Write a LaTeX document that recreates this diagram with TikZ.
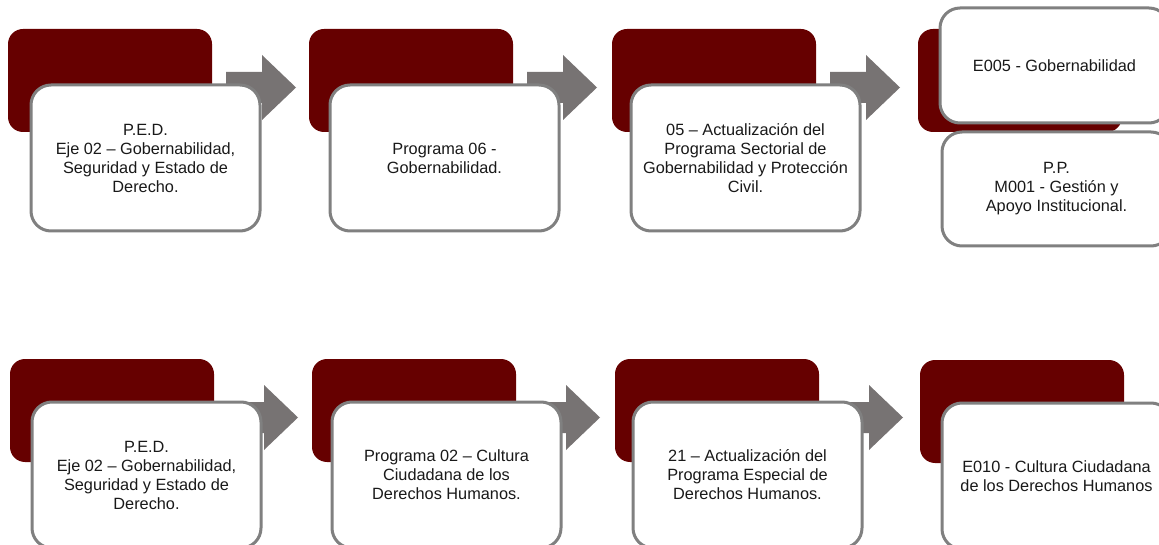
\documentclass[tikz,border=0pt]{standalone}
\usepackage{fontspec}
\setmainfont{Liberation Sans}
\usetikzlibrary{calc}
\definecolor{darkred}{RGB}{102,0,0}
\definecolor{arrowgray}{RGB}{119,115,115}
\definecolor{bordergray}{RGB}{128,128,128}
\tikzset{
  redbox/.style={fill=darkred, draw=none, rounded corners=15pt, minimum width=204pt, minimum height=103pt, anchor=north west, inner sep=0pt, outer sep=0pt},
  whitebox/.style={fill=white, draw=bordergray, line width=3pt, rounded corners=20pt, minimum width=229pt, minimum height=146pt, anchor=north west, inner sep=0pt, outer sep=0pt, align=center, font=\fontsize{16.3}{19}\selectfont, text=black!90},
  blockarrow/.style={fill=arrowgray, draw=none}
}
\newcommand{\myarrow}[2]{%
  \fill[blockarrow] ($(#1.north east)+(14,43)$) coordinate (#2) -- ++(36,0) -- ++(0,-17) -- ++(34,32.5) -- ++(-34,32.5) -- ++(0,-17) -- ++(-36,0) -- cycle;}
\begin{document}
\begin{tikzpicture}[x=1pt,y=-1pt]
\useasboundingbox (0,0) rectangle (1159,545);
\clip (0,0) rectangle (1159,545);
% top row
\node[redbox] (r1) at (8,29) {};
\node[redbox] (r2) at (309,29) {};
\node[redbox] (r3) at (612,29) {};
\node[redbox] (r4) at (918,29) {};
\myarrow{r1}{a1}
\myarrow{r2}{a2}
\myarrow{r3}{a3}
\node[whitebox] (w1) at (31,85) {P.E.D.\\Eje 02 – Gobernabilidad,\\Seguridad y Estado de\\Derecho.};
\node[whitebox] (w2) at (330,85) {Programa 06 -\\Gobernabilidad.};
\node[whitebox] (w3) at (631,85) {05 – Actualización del\\Programa Sectorial de\\Gobernabilidad y Protección\\Civil.};
\node[whitebox, minimum height=115pt] (w4a) at (940,8) {E005 - Gobernabilidad};
\node[whitebox, minimum height=114pt] (w4b) at (942,132) {P.P.\\M001 - Gestión y\\Apoyo Institucional.};
% bottom row
\node[redbox] (r5) at (10,359) {};
\node[redbox] (r6) at (312,359) {};
\node[redbox] (r7) at (615,359) {};
\node[redbox] (r8) at (920,360) {};
\myarrow{r5}{a5}
\myarrow{r6}{a6}
\myarrow{r7}{a7}
\node[whitebox] (w5) at (32,402) {P.E.D.\\Eje 02 – Gobernabilidad,\\Seguridad y Estado de\\Derecho.};
\node[whitebox] (w6) at (332,402) {Programa 02 – Cultura\\Ciudadana de los\\Derechos Humanos.};
\node[whitebox] (w7) at (633,402) {21 – Actualización del\\Programa Especial de\\Derechos Humanos.};
\node[whitebox] (w8) at (942,403) {E010 - Cultura Ciudadana\\de los Derechos Humanos};
\end{tikzpicture}
\end{document}
